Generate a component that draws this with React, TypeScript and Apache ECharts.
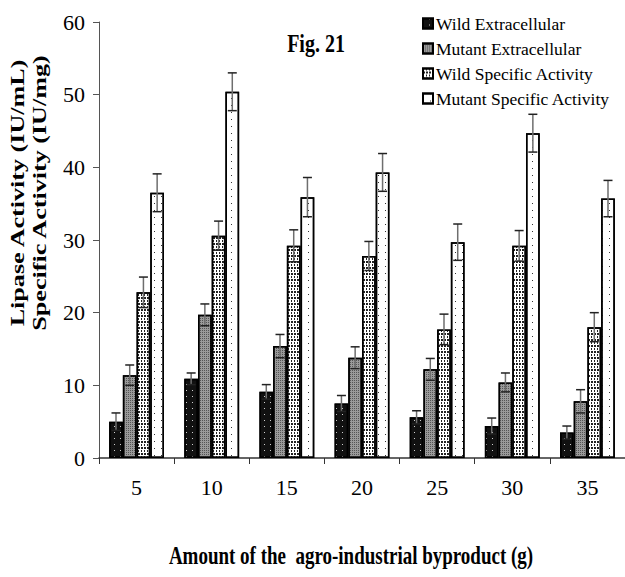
import React, { useEffect, useRef } from "react";
import * as echarts from "echarts";

const categories = ["5", "10", "15", "20", "25", "30", "35"];
const seriesNames = [
  "Wild Extracellular",
  "Mutant Extracellular",
  "Wild Specific Activity",
  "Mutant Specific Activity",
];
const wildExt = [5.0, 10.9, 9.1, 7.5, 5.6, 4.4, 3.5];
const mutantExt = [11.4, 19.7, 15.4, 13.8, 12.2, 10.4, 7.8];
const wildSpec = [22.8, 30.6, 29.2, 27.8, 17.7, 29.2, 18.0];
const mutantSpec = [36.5, 50.4, 35.9, 39.3, 29.7, 44.7, 35.7];
const wildExtErr = [1.2, 0.8, 1.0, 1.1, 0.9, 1.1, 0.9];
const mutantExtErr = [1.4, 1.5, 1.6, 1.5, 1.5, 1.3, 1.6];
const wildSpecErr = [2.1, 2.0, 2.2, 2.0, 2.1, 2.1, 2.0];
const mutantSpecErr = [2.6, 2.6, 2.7, 2.6, 2.5, 2.6, 2.5];

const FONT = "Liberation Serif";
const CAT_GAP = 0.27;

const values = [wildExt, mutantExt, wildSpec, mutantSpec];
const errors = [wildExtErr, mutantExtErr, wildSpecErr, mutantSpecErr];

const barStyles = [
  {
    color: "#111",
    decal: { symbol: "rect", symbolSize: 1, color: "#cfcfcf", dashArrayX: [1, 5], dashArrayY: [1, 5] },
  },
  {
    color: "#9a9a9a",
    decal: { symbol: "rect", symbolSize: 1, color: "#555", dashArrayX: [1, 1], dashArrayY: [1, 1] },
  },
  {
    color: "#ffffff",
    decal: { symbol: "rect", symbolSize: 1, color: "#222", dashArrayX: [[2, 1], [1, 2]], dashArrayY: [2, 1] },
  },
  {
    color: "#ffffff",
    decal: { symbol: "rect", symbolSize: 1, color: "#333", dashArrayX: [1, 6], dashArrayY: [1, 6] },
  },
];

export default function App() {
  const ref = useRef<HTMLDivElement>(null);
  useEffect(() => {
    if (!ref.current) return;
    const chart = echarts.init(ref.current, undefined, { renderer: "svg" });

    const barSeries = values.map((vals, k) => ({
      name: seriesNames[k],
      type: "bar",
      data: vals,
      barGap: "0%",
      barCategoryGap: CAT_GAP * 100 + "%",
      itemStyle: {
        color: barStyles[k].color,
        decal: barStyles[k].decal,
        borderColor: "#000",
        borderWidth: 1.5,
      },
      z: 2,
    }));

    const errSeries = values.map((vals, k) => ({
      type: "custom",
      z: 5,
      silent: true,
      data: vals.map((v, i) => [i, v, errors[k][i]]),
      encode: { x: 0, y: 1 },
      renderItem: (params: any, api: any) => {
        const ci = api.value(0);
        const v = api.value(1);
        const e = api.value(2);
        const catW = api.size([1, 0])[0];
        const barW = (catW * (1 - CAT_GAP)) / 4;
        const x = api.coord([ci, v])[0] + (k - 1.5) * barW;
        const yTop = api.coord([ci, v + e])[1];
        const yBot = api.coord([ci, v - e])[1];
        const half = 4.5;
        return {
          type: "group",
          children: [
            { type: "line", shape: { x1: x, y1: yTop, x2: x, y2: yBot }, style: { stroke: "#6e6e6e", lineWidth: 1.5 } },
            { type: "line", shape: { x1: x - half, y1: yTop, x2: x + half, y2: yTop }, style: { stroke: "#222", lineWidth: 1.5 } },
            { type: "line", shape: { x1: x - half, y1: yBot, x2: x + half, y2: yBot }, style: { stroke: "#222", lineWidth: 1.5 } },
          ],
        };
      },
    }));

    chart.setOption({
      animation: false,
      backgroundColor: "#fff",
      textStyle: { fontFamily: FONT },
      grid: { left: 99, top: 22, width: 526, height: 436 },
      legend: {
        data: seriesNames,
        orient: "vertical",
        left: 417,
        top: 9,
        itemWidth: 10,
        itemHeight: 10,
        itemGap: 6,
        icon: "rect",
        textStyle: { fontFamily: FONT, fontSize: 17.5, color: "#000", padding: [0, 0, 0, -2], lineHeight: 19 },
      },
      xAxis: {
        type: "category",
        data: categories,
        axisLine: { lineStyle: { color: "#333", width: 1.5 } },
        axisTick: { show: true, alignWithLabel: false, length: 6, lineStyle: { color: "#333" } },
        axisLabel: { fontFamily: FONT, fontSize: 22, color: "#000", margin: 18 },
      },
      yAxis: {
        type: "value",
        min: 0,
        max: 60,
        interval: 10,
        splitLine: { show: false },
        axisLine: { show: true, lineStyle: { color: "#555", width: 1 } },
        axisTick: { show: true, length: 6, lineStyle: { color: "#555" } },
        axisLabel: { fontFamily: FONT, fontSize: 22, color: "#000", margin: 14 },
      },
      graphic: [
        {
          type: "text",
          x: 316,
          y: 43,
          scaleY: 1.3,
          style: { text: "Fig. 21", font: "bold 20px " + FONT, fill: "#000", textAlign: "center", textVerticalAlign: "middle" },
        },
        {
          type: "text",
          x: 18,
          y: 193,
          rotation: Math.PI / 2,
          scaleX: 1.45,
          style: { text: "Lipase Activity (IU/mL)", font: "bold 18px " + FONT, fill: "#000", textAlign: "center", textVerticalAlign: "middle" },
        },
        {
          type: "text",
          x: 40,
          y: 193,
          rotation: Math.PI / 2,
          scaleX: 1.45,
          style: { text: "Specific Activity (IU/mg)", font: "bold 18px " + FONT, fill: "#000", textAlign: "center", textVerticalAlign: "middle" },
        },
        {
          type: "text",
          x: 351,
          y: 556,
          scaleY: 1.3,
          style: { text: "Amount of the  agro-industrial byproduct (g)", font: "bold 19px " + FONT, fill: "#000", textAlign: "center", textVerticalAlign: "middle" },
        },
      ],
      series: [...barSeries, ...errSeries],
    });
    return () => chart.dispose();
  }, []);
  return <div ref={ref} style={{ position: "fixed", left: 0, top: 0, width: 625, height: 577 }} />;
}
